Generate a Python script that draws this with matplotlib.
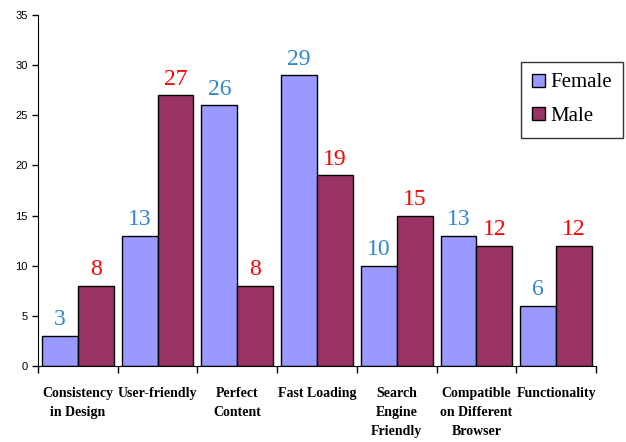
import matplotlib
matplotlib.use("Agg")
import matplotlib.pyplot as plt
import numpy as np

categories = ["Consistency\nin Design", "User-friendly", "Perfect\nContent", "Fast Loading",
              "Search\nEngine\nFriendly", "Compatible\non Different\nBrowser", "Functionality"]
female = [3, 13, 26, 29, 10, 13, 6]
male = [8, 27, 8, 19, 15, 12, 12]

FEMALE_COLOR = "#9999FF"
MALE_COLOR = "#993366"

fig = plt.figure(figsize=(6.26, 4.42), dpi=100)
ax = fig.add_axes([38 / 626, 1 - 366 / 442, (596 - 38) / 626, (366 - 15) / 442])

x = np.arange(len(categories))
width = 0.45
b1 = ax.bar(x - width / 2, female, width, color=FEMALE_COLOR, edgecolor="black", linewidth=1, label="Female")
b2 = ax.bar(x + width / 2, male, width, color=MALE_COLOR, edgecolor="black", linewidth=1, label="Male")

for bars, vals, col in [(b1, female, "#2E86D1"), (b2, male, "#FF0000")]:
    for rect, v in zip(bars, vals):
        ax.annotate(str(v), (rect.get_x() + rect.get_width() / 2, v), xytext=(0, 4),
                    textcoords="offset points", ha="center", va="bottom",
                    fontsize=17, family="Liberation Serif", color=col)

ax.set_xlim(-0.5, len(categories) - 0.5)
ax.set_ylim(0, 35)
ax.set_yticks(range(0, 36, 5))
ax.tick_params(axis="y", labelsize=8, length=4, width=1, direction="out")
for lab in ax.get_yticklabels():
    lab.set_family("Liberation Sans")

ax.set_xticks(np.arange(-0.5, len(categories), 1.0))
ax.set_xticklabels([])
ax.tick_params(axis="x", which="major", length=5, width=1, direction="out")
ax.set_xticks(x, minor=True)
ax.set_xticklabels(categories, minor=True, fontsize=10, fontweight="bold",
                   family="Liberation Serif", linespacing=1.6, va="top")
ax.tick_params(axis="x", which="minor", length=0, pad=15)

ax.spines["top"].set_visible(False)
ax.spines["right"].set_visible(False)

leg = fig.legend(handles=[b1, b2], loc="upper right", bbox_to_anchor=(623 / 626, 1 - 62 / 442),
                 prop={"family": "Liberation Serif", "size": 15}, frameon=True, fancybox=False,
                 edgecolor="black", handlelength=0.6, handleheight=0.6, handletextpad=0.25,
                 borderpad=0.55, labelspacing=0.7, borderaxespad=0)
leg.get_frame().set_linewidth(1)

fig.savefig("out.png", dpi=100)
